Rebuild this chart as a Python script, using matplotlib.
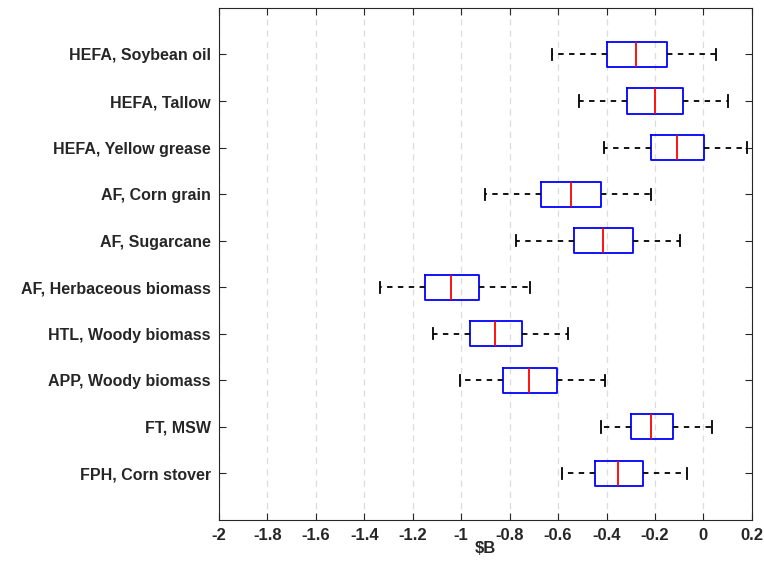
import numpy as np
import matplotlib.pyplot as plt

plt.rcParams['font.family'] = ['Liberation Sans', 'DejaVu Sans']

labels = ["HEFA, Soybean oil", "HEFA, Tallow", "HEFA, Yellow grease",
          "AF, Corn grain", "AF, Sugarcane", "AF, Herbaceous biomass",
          "HTL, Woody biomass", "APP, Woody biomass", "FT, MSW",
          "FPH, Corn stover"]
whislo = [-0.624, -0.515, -0.410, -0.903, -0.774, -1.336, -1.117, -1.004, -0.422, -0.582]
q1     = [-0.400, -0.314, -0.217, -0.671, -0.535, -1.151, -0.962, -0.829, -0.299, -0.447]
med    = [-0.278, -0.198, -0.109, -0.548, -0.413, -1.042, -0.861, -0.720, -0.216, -0.351]
q3     = [-0.152, -0.083, 0.001, -0.423, -0.290, -0.925, -0.750, -0.603, -0.126, -0.250]
whishi = [0.050, 0.102, 0.179, -0.216, -0.098, -0.714, -0.559, -0.406, 0.034, -0.069]

stats = []
for i in range(len(labels)):
    stats.append(dict(label=labels[i], whislo=whislo[i], q1=q1[i], med=med[i],
                      q3=q3[i], whishi=whishi[i], fliers=[]))

fig = plt.figure(figsize=(7.64, 5.65), dpi=100)
ax = fig.add_axes([0.2866, 0.0796, 0.6975, 0.9064])

pos = np.arange(1, len(labels) + 1)
ax.bxp(stats, positions=pos, orientation='horizontal', widths=0.54,
       showfliers=False, capwidths=0.24,
       boxprops=dict(color='#0000ff', linewidth=1.3),
       medianprops=dict(color='#ff0000', linewidth=1.3),
       whiskerprops=dict(color='black', linestyle=(0, (3, 3)), linewidth=1.3),
       capprops=dict(color='black', linewidth=1.3))

ax.set_xlim(-2, 0.2)
ax.set_ylim(11, 0)
ax.set_xticks(np.arange(-2, 0.21, 0.2))
ax.set_xticklabels(['-2', '-1.8', '-1.6', '-1.4', '-1.2', '-1', '-0.8', '-0.6',
                    '-0.4', '-0.2', '0', '0.2'])
ax.set_yticks(pos)
ax.set_yticklabels(labels)
ax.xaxis.grid(True, linestyle=(0, (5, 4)), color='#dcdcdc', linewidth=0.9)
ax.set_axisbelow(True)
ax.tick_params(direction='in', top=True, right=True, length=5, width=0.8,
               colors='#262626', labelsize=11.5)
ax.tick_params(axis='x', pad=6, labelsize=12)
ax.tick_params(axis='y', pad=6)
for lab in ax.get_xticklabels() + ax.get_yticklabels():
    lab.set_fontweight('bold')
for s in ax.spines.values():
    s.set_color('#262626')
    s.set_linewidth(0.8)
ax.set_xlabel('$B', fontsize=12, fontweight='bold', color='#262626', labelpad=-2)

fig.savefig('out.png', dpi=100)
